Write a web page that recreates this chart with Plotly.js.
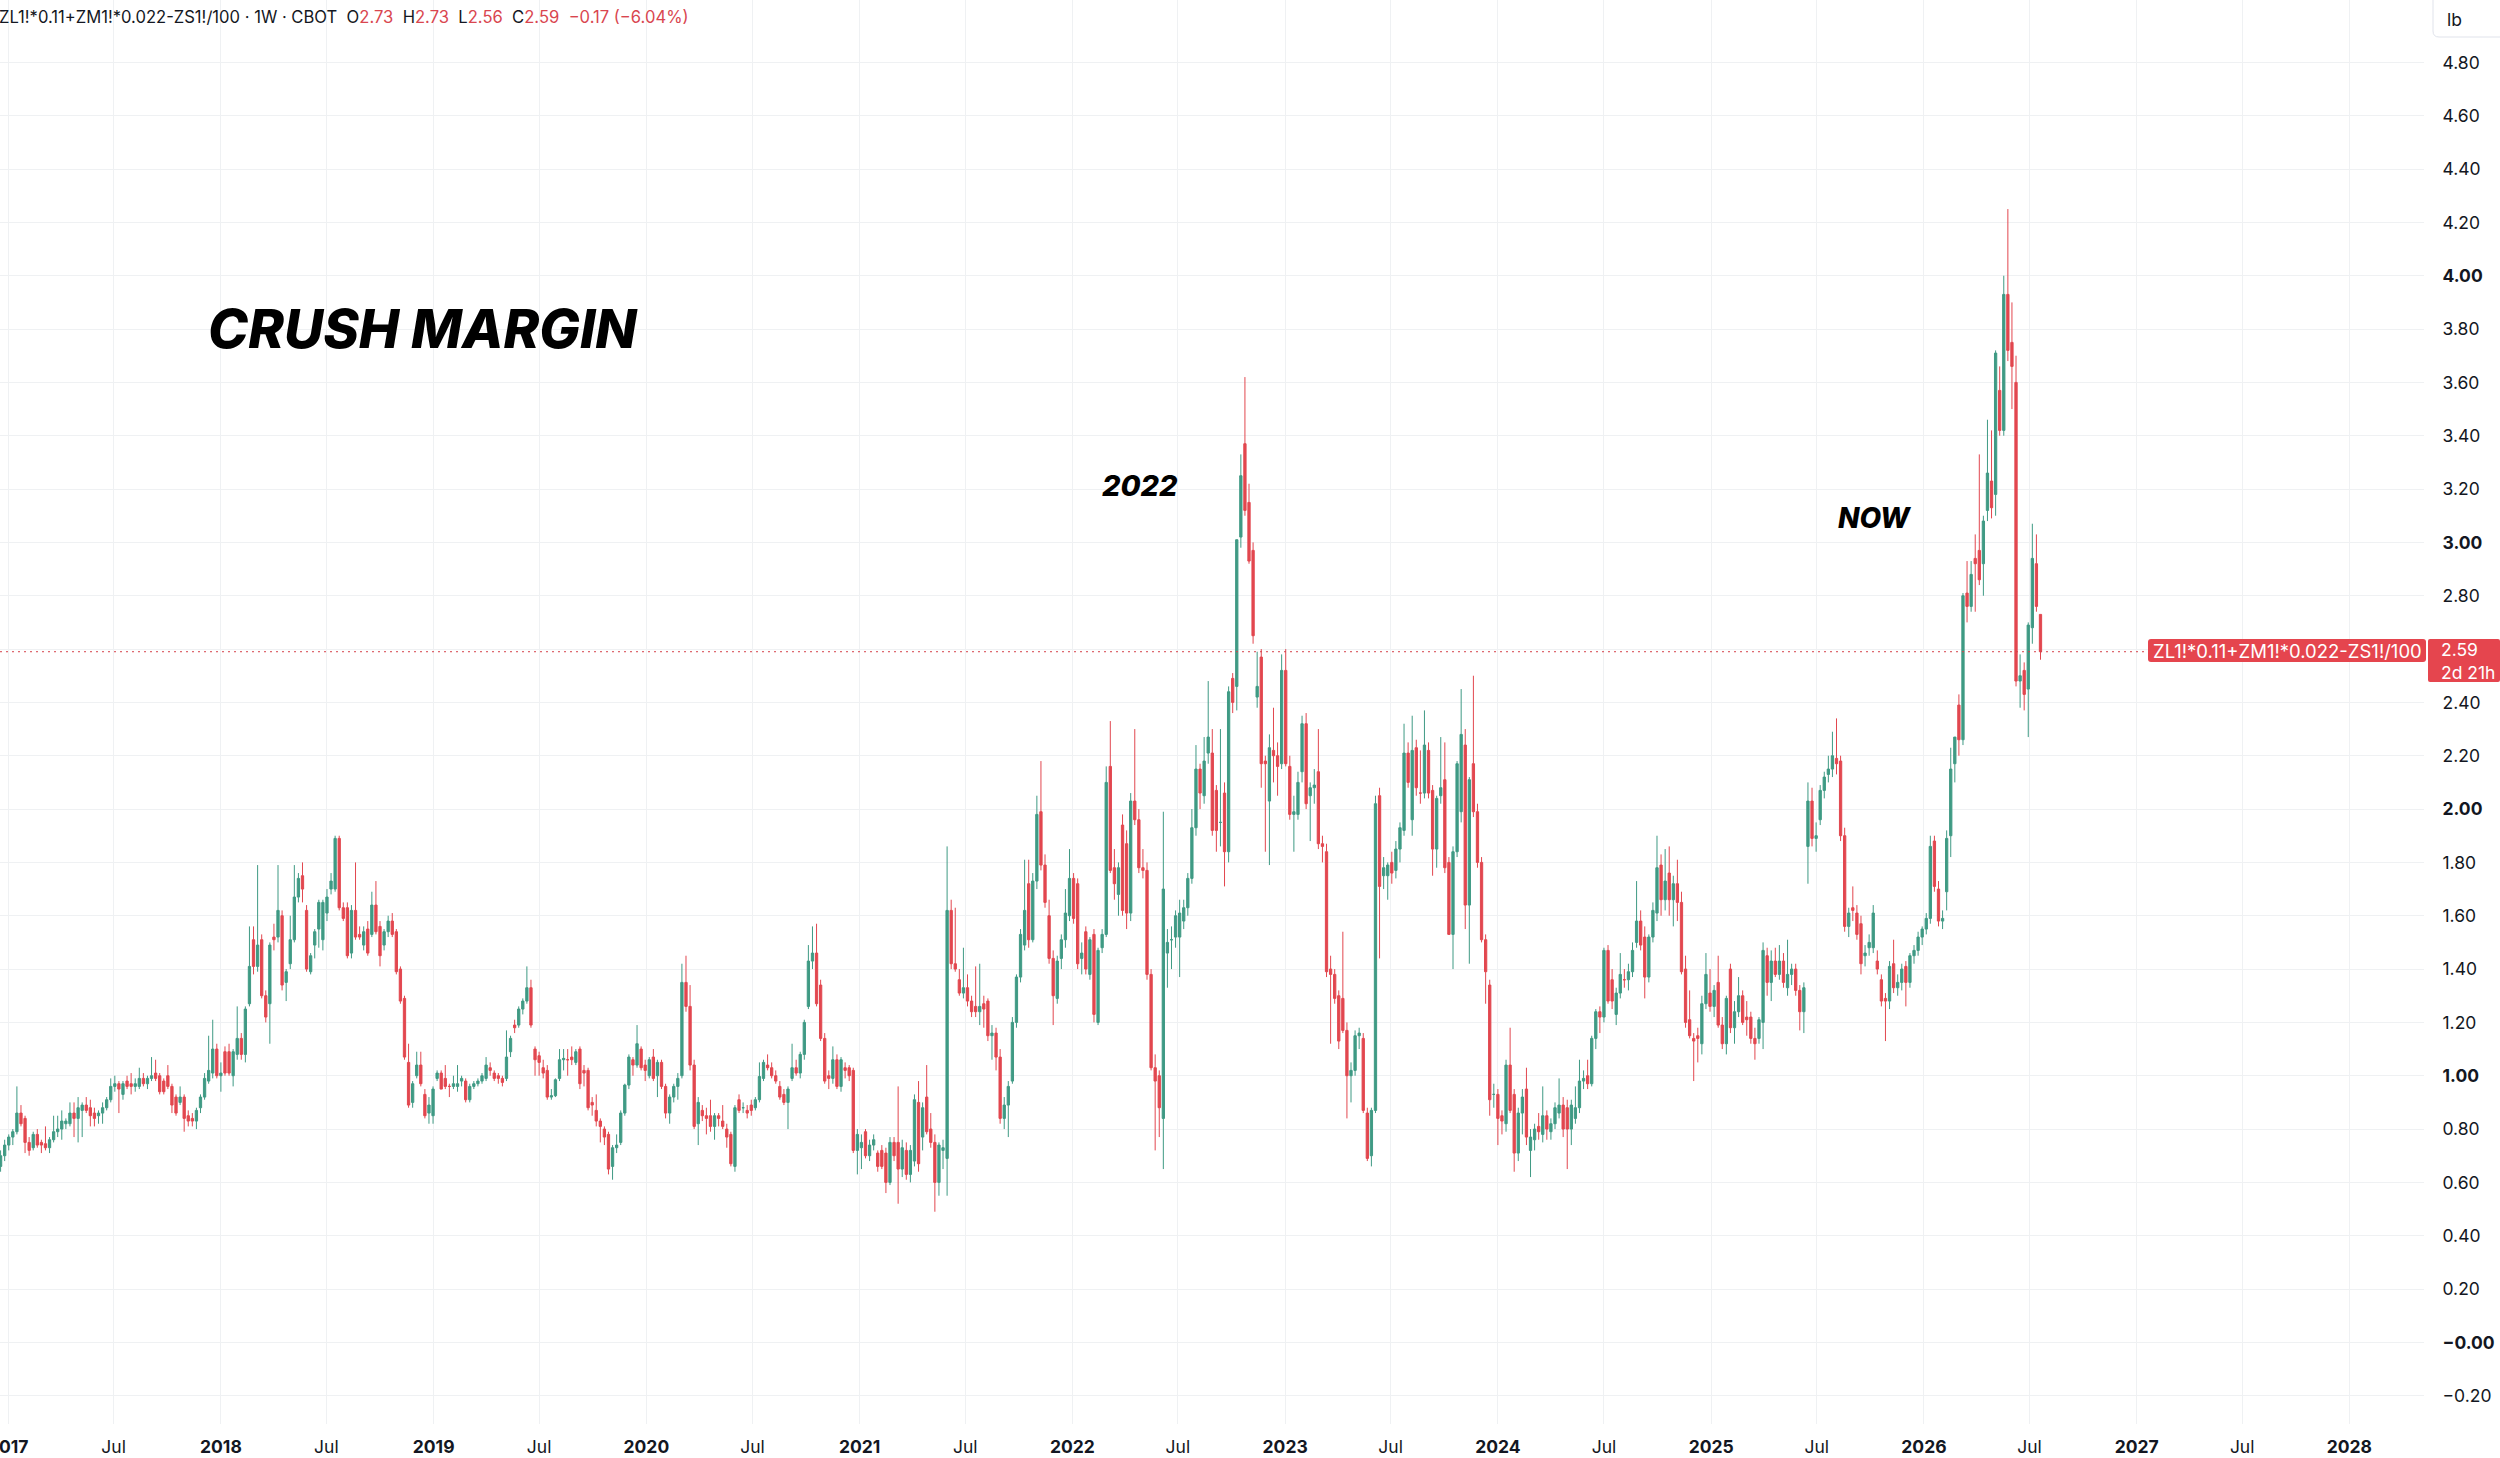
<!DOCTYPE html>
<html>
<head>
<meta charset="utf-8">
<script src="https://cdn.plot.ly/plotly-3.0.1.min.js"></script>
<style>html,body{margin:0;padding:0;background:#fff;}#chart{width:2500px;height:1458px;}</style>
</head>
<body>
<div id="chart"></div>
<script>
// Weekly bars [open, high, low, close], continuous Monday sequence from firstWeek
const firstWeek = '2016-12-19';
const bars2017 = [
[0.66,0.72,0.64,0.70],[0.70,0.76,0.68,0.74],[0.74,0.78,0.72,0.77],[0.77,0.80,0.74,0.79],[0.79,0.96,0.78,0.86],[0.86,0.89,0.81,0.82],[0.84,0.85,0.71,0.75],[0.75,0.77,0.70,0.72],[0.73,0.79,0.72,0.78],[0.78,0.80,0.73,0.74],[0.75,0.76,0.71,0.74],[0.745,0.81,0.72,0.73],[0.73,0.77,0.71,0.76],[0.76,0.85,0.75,0.79],[0.79,0.85,0.77,0.80],[0.80,0.87,0.76,0.83],[0.82,0.84,0.80,0.83],[0.82,0.90,0.81,0.86],[0.86,0.90,0.77,0.84],[0.84,0.92,0.75,0.88],[0.87,0.90,0.77,0.89],[0.89,0.92,0.86,0.87],[0.88,0.91,0.81,0.85],[0.86,0.88,0.81,0.84],[0.85,0.87,0.82,0.86],[0.86,0.90,0.82,0.88],[0.88,0.92,0.87,0.91],[0.91,0.99,0.90,0.96],
[0.96,1.00,0.94,0.97],[0.97,0.98,0.86,0.95],[0.93,0.98,0.91,0.97],[0.98,1.00,0.95,0.96],[0.97,1.01,0.93,0.96],[0.96,0.99,0.94,0.97],[0.96,1.03,0.95,0.99],[0.99,1.01,0.96,0.97],[0.97,1.00,0.95,0.99],[0.99,1.07,0.98,1.00],[1.01,1.06,0.98,0.99],[1.00,1.01,0.93,0.94],[0.98,0.99,0.93,0.94],[1.00,1.04,0.95,0.96],[0.96,0.97,0.86,0.89],[0.92,0.93,0.85,0.86],[0.90,0.96,0.89,0.92],[0.92,0.93,0.79,0.84],[0.85,0.87,0.81,0.83],[0.84,0.86,0.81,0.83],[0.83,0.88,0.80,0.87],[0.88,0.93,0.86,0.92],[0.92,1.01,0.91,0.99],[0.98,1.15,0.97,1.02],[1.01,1.21,0.99,1.10],[1.10,1.12,0.99,1.00]
];
const bars2018 = [
[1.00,1.05,0.94,1.01],[1.09,1.11,1.00,1.01],[1.09,1.12,1.00,1.01],[1.00,1.10,0.96,1.09],[1.08,1.26,1.06,1.14],[1.14,1.16,1.06,1.08],[1.08,1.26,1.05,1.25],[1.27,1.56,1.26,1.41],[1.51,1.56,1.38,1.41],[1.41,1.79,1.39,1.49],[1.51,1.53,1.29,1.30],[1.30,1.32,1.20,1.22],[1.27,1.50,1.12,1.49],[1.52,1.57,1.47,1.51],[1.52,1.79,1.50,1.62],[1.60,1.62,1.32,1.34],[1.35,1.40,1.28,1.39],[1.42,1.60,1.40,1.51],[1.51,1.79,1.50,1.67],[1.67,1.76,1.65,1.74],[1.75,1.80,1.65,1.70],[1.62,1.64,1.39,1.40],[1.39,1.46,1.38,1.45],[1.49,1.55,1.44,1.54],[1.55,1.66,1.48,1.65],[1.51,1.66,1.47,1.65],
[1.61,1.70,1.58,1.67],[1.70,1.76,1.68,1.73],[1.70,1.90,1.69,1.89],[1.89,1.90,1.62,1.63],[1.63,1.65,1.58,1.59],[1.63,1.65,1.44,1.45],[1.46,1.64,1.44,1.62],[1.62,1.80,1.51,1.52],[1.53,1.56,1.51,1.52],[1.49,1.56,1.47,1.54],[1.55,1.58,1.45,1.46],[1.53,1.69,1.52,1.64],[1.64,1.73,1.53,1.54],[1.56,1.58,1.41,1.45],[1.49,1.55,1.47,1.54],[1.54,1.60,1.52,1.58],[1.58,1.61,1.52,1.53],[1.54,1.55,1.38,1.39],[1.40,1.41,1.27,1.28],[1.29,1.30,1.06,1.07],[1.05,1.12,0.88,0.89],[0.90,0.98,0.88,0.97],[1.00,1.09,0.99,1.04],[1.04,1.09,0.96,0.97],[0.93,0.95,0.84,0.85],[0.86,0.92,0.82,0.89]
];
const bars2019 = [
[0.85,0.96,0.82,0.95],[0.99,1.02,0.98,1.01],[1.01,1.02,0.95,0.95],[0.99,1.04,0.95,0.96],[0.96,0.97,0.92,0.96],[0.96,1.00,0.95,0.97],[0.96,1.04,0.94,0.97],[0.98,1.00,0.96,0.99],[0.98,0.99,0.90,0.91],[0.91,0.97,0.90,0.96],[0.96,0.98,0.95,0.97],[0.97,0.99,0.96,0.98],[0.98,1.01,0.97,1.00],[0.99,1.07,0.98,1.04],[1.03,1.05,1.00,1.02],[1.01,1.02,0.98,0.99],[1.00,1.01,0.97,0.99],[0.99,1.00,0.96,0.975],[0.99,1.17,0.98,1.07],[1.09,1.15,1.07,1.14],[1.19,1.21,1.16,1.18],[1.19,1.26,1.18,1.25],[1.25,1.29,1.23,1.28],[1.28,1.41,1.27,1.33],[1.33,1.36,1.18,1.19],[1.10,1.11,1.00,1.06],
[1.075,1.09,1.00,1.05],[1.03,1.06,0.99,1.01],[1.02,1.04,0.91,0.92],[0.92,0.95,0.91,0.925],[0.925,0.99,0.92,0.985],[0.99,1.10,0.98,1.06],[1.06,1.10,1.02,1.065],[1.06,1.10,1.00,1.06],[1.07,1.11,1.04,1.06],[1.05,1.10,1.04,1.09],[1.10,1.11,0.95,0.97],[1.02,1.04,0.96,1.01],[1.02,1.03,0.87,0.88],[0.90,0.92,0.85,0.89],[0.87,0.93,0.81,0.83],[0.83,0.84,0.75,0.81],[0.80,0.81,0.74,0.77],[0.78,0.79,0.63,0.65],[0.66,0.74,0.61,0.73],[0.73,0.78,0.71,0.74],[0.75,0.87,0.74,0.86],[0.86,0.97,0.85,0.965],[0.965,1.08,0.95,1.07],[1.06,1.07,1.00,1.04],[1.04,1.19,1.03,1.12],[1.10,1.11,1.02,1.03]
];
const bars2020 = [
[1.04,1.06,0.98,1.02],[1.00,1.07,0.99,1.06],[1.07,1.10,0.98,0.99],[1.00,1.06,0.92,1.05],[1.05,1.06,0.95,0.96],[0.96,0.97,0.84,0.86],[0.86,0.93,0.82,0.92],[0.92,0.97,0.90,0.96],[0.96,1.01,0.91,0.99],[1.00,1.42,0.99,1.35],[1.35,1.45,1.24,1.26],[1.26,1.34,1.02,1.04],[1.04,1.06,0.80,0.81],[0.82,0.92,0.74,0.90],[0.87,0.89,0.83,0.85],[0.85,0.88,0.78,0.84],[0.85,0.91,0.79,0.81],[0.81,0.86,0.76,0.85],[0.85,0.86,0.81,0.84],[0.83,0.89,0.80,0.81],[0.80,0.82,0.73,0.77],[0.78,0.79,0.66,0.67],[0.66,0.89,0.64,0.88],[0.91,0.93,0.86,0.87],[0.88,0.90,0.86,0.88],[0.87,0.89,0.84,0.86],
[0.89,0.91,0.85,0.87],[0.88,0.92,0.87,0.91],[0.91,1.05,0.90,0.997],[0.99,1.06,0.98,1.05],[1.04,1.08,1.02,1.03],[1.03,1.05,0.99,1.00],[1.00,1.02,0.97,0.98],[0.96,0.98,0.91,0.92],[0.93,0.95,0.89,0.90],[0.90,0.96,0.80,0.95],[0.99,1.12,0.98,1.03],[1.03,1.06,1.00,1.01],[1.01,1.09,0.99,1.08],[1.08,1.21,1.06,1.20],[1.26,1.49,1.25,1.43],[1.43,1.56,1.40,1.46],[1.46,1.57,1.26,1.27],[1.34,1.36,1.13,1.14],[1.14,1.16,0.97,0.98],[1.00,1.02,0.95,0.99],[0.99,1.11,0.97,1.06],[1.06,1.08,0.95,0.96],[0.96,1.07,0.94,1.06],[1.03,1.05,0.99,1.02],[1.03,1.04,0.98,1.00],[1.02,1.03,0.71,0.72]
];
const bars2021 = [
[0.72,0.80,0.63,0.78],[0.73,0.78,0.65,0.75],[0.79,0.80,0.69,0.70],[0.70,0.76,0.68,0.74],[0.74,0.78,0.72,0.76],[0.71,0.72,0.64,0.66],[0.72,0.74,0.65,0.66],[0.71,0.73,0.56,0.60],[0.60,0.77,0.59,0.75],[0.75,0.77,0.68,0.70],[0.75,0.96,0.52,0.65],[0.65,0.76,0.62,0.73],[0.72,0.75,0.61,0.63],[0.63,0.74,0.60,0.72],[0.68,0.93,0.66,0.91],[0.90,0.98,0.64,0.67],[0.77,0.90,0.72,0.88],[0.92,1.04,0.78,0.79],[0.80,0.86,0.73,0.75],[0.75,0.78,0.49,0.60],[0.60,0.75,0.55,0.74],[0.72,0.76,0.65,0.73],[0.69,1.86,0.55,1.62],[1.62,1.66,1.40,1.42],[1.42,1.63,1.39,1.40],[1.36,1.40,1.30,1.31],
[1.31,1.48,1.29,1.33],[1.33,1.38,1.26,1.28],[1.28,1.30,1.22,1.24],[1.26,1.41,1.22,1.24],[1.24,1.42,1.19,1.26],[1.27,1.30,1.18,1.25],[1.28,1.29,1.13,1.15],[1.15,1.19,1.06,1.16],[1.16,1.18,1.02,1.07],[1.07,1.10,0.82,0.84],[0.84,0.92,0.80,0.89],[0.89,0.98,0.77,0.96],[0.98,1.22,0.97,1.20],[1.20,1.38,1.18,1.37],[1.37,1.55,1.35,1.53],[1.49,1.81,1.47,1.62],[1.72,1.81,1.48,1.51],[1.51,1.76,1.50,1.73],[1.73,2.05,1.70,1.98],[1.99,2.18,1.77,1.79],[1.79,1.83,1.63,1.65],[1.60,1.66,1.42,1.44],[1.44,1.47,1.19,1.30],[1.29,1.45,1.27,1.43],[1.44,1.53,1.40,1.51],[1.51,1.70,1.48,1.61]
];
const bars2022 = [
[1.60,1.85,1.58,1.74],[1.74,1.76,1.57,1.59],[1.72,1.74,1.40,1.42],[1.44,1.50,1.38,1.46],[1.54,1.56,1.38,1.40],[1.38,1.52,1.36,1.51],[1.53,1.55,1.20,1.23],[1.20,1.48,1.19,1.47],[1.48,1.55,1.46,1.53],[1.53,2.16,1.52,2.10],[2.16,2.33,1.76,1.77],[1.78,1.85,1.66,1.72],[1.68,1.80,1.60,1.78],[1.94,1.98,1.60,1.62],[1.87,1.92,1.55,1.61],[1.61,2.06,1.58,2.03],[2.03,2.30,1.94,1.96],[1.96,2.00,1.76,1.78],[1.78,1.85,1.74,1.77],[1.77,1.80,1.36,1.38],[1.38,1.40,1.02,1.03],[1.03,1.08,0.72,0.98],[1.00,1.02,0.77,0.88],[0.84,1.99,0.65,1.70],[1.46,1.55,1.33,1.50],[1.51,1.56,1.40,1.51],
[1.52,1.62,1.48,1.60],[1.52,1.66,1.37,1.61],[1.58,1.66,1.55,1.63],[1.63,1.76,1.60,1.74],[1.74,2.00,1.72,1.93],[1.93,2.24,1.90,2.15],[2.15,2.17,2.00,2.06],[2.05,2.27,2.02,2.18],[2.21,2.48,2.17,2.27],[2.21,2.30,1.90,1.92],[2.07,2.09,1.84,1.92],[1.95,2.30,1.86,1.95],[2.06,2.10,1.71,1.84],[1.84,2.46,1.80,2.44],[2.49,2.51,2.36,2.40],[2.46,3.01,2.37,3.01],[3.02,3.33,2.98,3.25],[3.37,3.62,3.10,3.12],[3.15,3.22,2.92,2.93],[2.97,3.00,2.62,2.65],[2.42,2.59,2.38,2.46],[2.57,2.60,2.08,2.17],[2.18,2.20,1.84,2.17],[2.03,2.28,1.79,2.23],[2.22,2.38,2.10,2.20],[2.20,2.25,2.05,2.16]
];
const bars2023 = [
[2.17,2.58,2.15,2.52],[2.52,2.60,2.16,2.17],[2.16,2.20,1.96,1.98],[1.98,2.05,1.84,1.99],[1.98,2.14,1.96,2.10],[2.14,2.35,2.10,2.32],[2.32,2.36,2.00,2.02],[2.05,2.10,1.88,2.08],[2.08,2.15,2.02,2.09],[2.14,2.30,1.85,1.87],[1.87,1.90,1.80,1.86],[1.84,1.87,1.37,1.39],[1.40,1.45,1.12,1.38],[1.38,1.40,1.27,1.29],[1.30,1.32,1.10,1.13],[1.29,1.54,1.16,1.17],[1.17,1.20,0.84,1.00],[1.00,1.05,0.90,1.02],[1.02,1.17,1.00,1.15],[1.15,1.18,1.10,1.16],[1.14,1.16,0.86,0.87],[0.86,0.88,0.68,0.69],[0.70,0.88,0.66,0.87],[0.87,2.05,0.86,2.02],[2.05,2.08,1.44,1.71],[1.75,1.82,1.70,1.78],
[1.75,1.80,1.66,1.79],[1.80,1.84,1.72,1.76],[1.77,1.88,1.74,1.85],[1.85,1.95,1.80,1.93],[1.92,2.32,1.90,2.21],[2.21,2.25,2.08,2.10],[1.96,2.35,1.90,2.22],[2.23,2.26,2.05,2.08],[2.06,2.22,2.02,2.06],[2.06,2.37,2.04,2.24],[2.22,2.25,2.04,2.06],[2.07,2.09,1.75,1.85],[1.85,2.05,1.78,2.04],[2.05,2.27,2.02,2.08],[2.11,2.25,1.76,1.78],[1.80,1.82,1.53,1.53],[1.53,1.86,1.40,1.84],[1.84,2.18,1.82,2.17],[1.99,2.45,1.95,2.28],[2.24,2.30,1.55,1.64],[1.64,2.12,1.42,2.11],[2.17,2.50,1.97,1.99],[1.99,2.02,1.78,1.80],[1.80,1.82,1.50,1.51],[1.51,1.53,1.27,1.39],[1.34,1.36,0.85,0.91]
];
const bars2024 = [
[0.93,0.97,0.88,0.93],[0.93,0.95,0.74,0.84],[0.85,0.87,0.78,0.83],[0.82,1.06,0.79,1.04],[1.04,1.18,0.86,0.87],[0.93,0.95,0.64,0.71],[0.71,0.88,0.68,0.86],[0.86,0.95,0.78,0.92],[0.95,1.03,0.74,0.77],[0.72,0.80,0.62,0.77],[0.76,0.82,0.72,0.80],[0.81,0.86,0.76,0.79],[0.78,0.96,0.75,0.85],[0.85,0.87,0.76,0.80],[0.79,0.84,0.76,0.82],[0.82,0.90,0.80,0.88],[0.86,0.99,0.84,0.89],[0.89,0.92,0.77,0.80],[0.88,0.91,0.65,0.80],[0.80,0.91,0.74,0.89],[0.84,0.96,0.82,0.88],[0.88,1.06,0.86,0.98],[0.98,1.02,0.95,0.99],[1.00,1.06,0.95,0.97],[0.97,1.15,0.96,1.14],[1.14,1.25,1.10,1.24],
[1.24,1.26,1.16,1.22],[1.22,1.48,1.20,1.47],[1.47,1.49,1.27,1.28],[1.36,1.40,1.25,1.28],[1.23,1.33,1.19,1.31],[1.31,1.46,1.29,1.38],[1.36,1.40,1.33,1.36],[1.36,1.42,1.32,1.39],[1.39,1.50,1.37,1.47],[1.50,1.73,1.48,1.58],[1.58,1.62,1.47,1.49],[1.52,1.56,1.29,1.37],[1.37,1.53,1.35,1.52],[1.52,1.65,1.50,1.62],[1.61,1.90,1.58,1.78],[1.79,1.83,1.60,1.66],[1.66,1.85,1.62,1.73],[1.76,1.86,1.60,1.66],[1.66,1.75,1.56,1.72],[1.72,1.81,1.58,1.65],[1.65,1.69,1.38,1.39],[1.40,1.45,1.18,1.20],[1.21,1.32,1.14,1.15],[1.14,1.16,0.98,1.13],[1.15,1.18,1.05,1.14],[1.12,1.30,1.08,1.27]
];
const bars2025 = [
[1.27,1.46,1.25,1.38],[1.31,1.40,1.24,1.26],[1.26,1.34,1.22,1.32],[1.35,1.45,1.18,1.19],[1.19,1.22,1.10,1.12],[1.12,1.30,1.08,1.29],[1.40,1.42,1.16,1.18],[1.18,1.28,1.12,1.24],[1.24,1.37,1.22,1.30],[1.30,1.32,1.19,1.20],[1.22,1.28,1.15,1.21],[1.22,1.24,1.12,1.14],[1.14,1.18,1.06,1.12],[1.14,1.22,1.12,1.21],[1.20,1.50,1.10,1.47],[1.45,1.48,1.30,1.35],[1.35,1.47,1.28,1.43],[1.43,1.48,1.37,1.38],[1.38,1.49,1.36,1.43],[1.43,1.46,1.33,1.35],[1.33,1.51,1.30,1.38],[1.38,1.42,1.34,1.40],[1.40,1.42,1.30,1.32],[1.32,1.34,1.17,1.24],[1.24,1.35,1.16,1.33],[1.86,2.10,1.72,2.03],
[2.03,2.08,1.86,1.89],[1.89,1.95,1.84,1.90],[1.96,2.09,1.94,2.07],[2.07,2.14,2.04,2.12],[2.13,2.20,2.10,2.15],[2.15,2.29,2.12,2.20],[2.19,2.34,2.13,2.17],[2.18,2.20,1.88,1.90],[1.90,1.93,1.54,1.56],[1.56,1.63,1.52,1.61],[1.63,1.71,1.58,1.62],[1.61,1.64,1.51,1.53],[1.57,1.60,1.38,1.42],[1.45,1.49,1.41,1.46],[1.48,1.53,1.45,1.50],[1.48,1.64,1.46,1.61],[1.43,1.47,1.38,1.40],[1.36,1.38,1.26,1.28],[1.29,1.31,1.13,1.28],[1.28,1.43,1.25,1.41],[1.42,1.51,1.31,1.33],[1.33,1.38,1.30,1.35],[1.35,1.42,1.32,1.40],[1.41,1.43,1.26,1.35],[1.35,1.46,1.33,1.45],[1.45,1.49,1.42,1.47]
];
const bars2026 = [
[1.47,1.54,1.45,1.52],[1.52,1.56,1.49,1.55],[1.55,1.61,1.53,1.59],[1.59,1.90,1.57,1.86],[1.88,1.90,1.69,1.71],[1.70,1.73,1.56,1.58],[1.58,1.62,1.55,1.59],[1.69,1.92,1.62,1.89],[1.90,2.23,1.82,2.15],[2.17,2.27,2.10,2.27],[2.39,2.43,2.20,2.26],[2.26,2.81,2.24,2.80],[2.81,2.93,2.70,2.76],[2.76,2.93,2.74,2.88],[2.94,3.03,2.74,2.92],[2.97,3.33,2.84,2.86],[2.92,3.10,2.80,3.08],[3.12,3.46,3.08,3.26],[3.23,3.42,3.09,3.13],[3.18,3.72,3.10,3.71],[3.57,3.66,3.40,3.42],[3.42,4.00,3.40,3.93],[3.93,4.25,3.68,3.72],[3.75,3.90,3.50,3.66],[3.60,3.70,2.46,2.48],[2.48,2.58,2.38,2.50],
[2.52,2.55,2.37,2.43],[2.45,2.70,2.27,2.69],[2.68,3.07,2.62,2.94],[2.92,3.03,2.74,2.76],[2.73,2.73,2.56,2.59]
];

const yTickValues = [-0.2,0,0.2,0.4,0.6,0.8,1,1.2,1.4,1.6,1.8,2,2.2,2.4,2.6,2.8,3,3.2,3.4,3.6,3.8,4,4.2,4.4,4.6,4.8];
const yTickLabels = ['−0.20','<b>−0.00</b>','0.20','0.40','0.60','0.80','<b>1.00</b>','1.20','1.40','1.60','1.80','<b>2.00</b>','2.20','2.40','','2.80','<b>3.00</b>','3.20','3.40','3.60','3.80','<b>4.00</b>','4.20','4.40','4.60','4.80'];
const xTickDates = ['2017-01-01','2017-07-01','2018-01-01','2018-07-01','2019-01-01','2019-07-01','2020-01-01','2020-07-01','2021-01-01','2021-07-01','2022-01-01','2022-07-01','2023-01-01','2023-07-01','2024-01-01','2024-07-01','2025-01-01','2025-07-01','2026-01-01','2026-07-01','2027-01-01','2027-07-01','2028-01-01'];
const xTickLabels = ['<b>2017</b>','Jul','<b>2018</b>','Jul','<b>2019</b>','Jul','<b>2020</b>','Jul','<b>2021</b>','Jul','<b>2022</b>','Jul','<b>2023</b>','Jul','<b>2024</b>','Jul','<b>2025</b>','Jul','<b>2026</b>','Jul','<b>2027</b>','Jul','<b>2028</b>'];
const lastPrice = 2.59;
const symbol = 'ZL1!*0.11+ZM1!*0.022-ZS1!/100';

const allBars = [].concat(bars2017,bars2018,bars2019,bars2020,bars2021,bars2022,bars2023,bars2024,bars2025,bars2026);
const t0 = Date.parse(firstWeek + 'T00:00:00Z');
const dates = allBars.map((b,i)=> new Date(t0 + i*7*86400000).toISOString().slice(0,10));

const UP = '#3f9a84', DOWN = '#e2474f', TXT = '#131722', GRID = '#eff1f3';
const W = 2500, H = 1458, PW = 2424, PH = 1424;
const px = x => x / PW, py = y => 1 - y / PH;
function rrect(x0,y0,x1,y1,r){
  return 'M'+px(x0+r)+','+py(y0)+' L'+px(x1-r)+','+py(y0)+' Q'+px(x1)+','+py(y0)+' '+px(x1)+','+py(y0+r)+
    ' L'+px(x1)+','+py(y1-r)+' Q'+px(x1)+','+py(y1)+' '+px(x1-r)+','+py(y1)+
    ' L'+px(x0+r)+','+py(y1)+' Q'+px(x0)+','+py(y1)+' '+px(x0)+','+py(y1-r)+
    ' L'+px(x0)+','+py(y0+r)+' Q'+px(x0)+','+py(y0)+' '+px(x0+r)+','+py(y0)+' Z';
}

const trace = {
  type: 'candlestick',
  x: dates,
  open: allBars.map(b=>b[0]), high: allBars.map(b=>b[1]), low: allBars.map(b=>b[2]), close: allBars.map(b=>b[3]),
  increasing: {line:{color:UP,width:1}, fillcolor:UP},
  decreasing: {line:{color:DOWN,width:1}, fillcolor:DOWN},
  whiskerwidth: 0,
  hoverinfo: 'skip'
};

const FONT = 'Inter, Roboto, "Liberation Sans", sans-serif';
const red = s => '<span style="color:#d9464f">'+s+'</span>';
const header = symbol + ' · 1W · CBOT\u00a0\u00a0O' + red('2.73') + '\u00a0\u00a0H' + red('2.73') + '\u00a0\u00a0L' + red('2.56') + '\u00a0\u00a0C' + red('2.59') + '\u00a0\u00a0' + red('−0.17 (−6.04%)');

const layout = {
  width: W, height: H,
  margin: {l:0, r:W-PW, t:0, b:H-PH, pad:0},
  paper_bgcolor: '#ffffff', plot_bgcolor: '#ffffff',
  showlegend: false, hovermode: false, boxgap: 0.2,
  font: {family: FONT, color: TXT, size: 17},
  xaxis: {
    type: 'date', range: ['2016-12-18','2028-05-08'],
    rangeslider: {visible:false},
    tickmode: 'array', tickvals: xTickDates, ticktext: xTickLabels,
    showgrid: true, gridcolor: GRID, gridwidth: 1, zeroline: false, showline: false,
    ticks: 'outside', ticklen: 7, tickcolor: 'rgba(0,0,0,0)', ticklabeloverflow: 'allow',
    tickfont: {family: FONT, size: 17.5, color: TXT}, fixedrange: true
  },
  yaxis: {
    side: 'right', range: [-0.306, 5.034],
    tickmode: 'array', tickvals: yTickValues, ticktext: yTickLabels,
    showgrid: true, gridcolor: GRID, gridwidth: 1, zeroline: false, showline: false,
    ticks: 'outside', ticklen: 14, tickcolor: 'rgba(0,0,0,0)',
    tickfont: {family: FONT, size: 17.5, color: TXT}, fixedrange: true
  },
  shapes: [
    {type:'line', xref:'paper', x0:0, x1:1, yref:'y', y0:lastPrice, y1:lastPrice, line:{color:'#d5404a', width:1, dash:'2px,4px'}, layer:'above'},
    {type:'path', path: rrect(2148,639,2426,662,3), xref:'paper', yref:'paper', fillcolor:'#e5454e', line:{width:0}, layer:'above'},
    {type:'path', path: rrect(2428,639,2500,682,2), xref:'paper', yref:'paper', fillcolor:'#e5454e', line:{width:0}, layer:'above'},
    {type:'path', path: rrect(2433,-6,2506,37,6), xref:'paper', yref:'paper', fillcolor:'#ffffff', line:{width:1,color:'#e0e3eb'}, layer:'above'}
  ],
  annotations: [
    {xref:'paper', yref:'paper', x:px(-3), y:py(17.5), xanchor:'left', yanchor:'middle', text: header, showarrow:false, font:{family:FONT, size:16.6, color:TXT}},
    {xref:'paper', yref:'paper', x:px(2287), y:py(650.5), xanchor:'center', yanchor:'middle', text: symbol, showarrow:false, font:{family:FONT, size:18.5, color:'#ffffff'}},
    {xref:'paper', yref:'paper', x:px(2439), y:py(661), xanchor:'left', yanchor:'middle', align:'left', text: '2.59<br>2d 21h', showarrow:false, font:{family:FONT, size:17.5, color:'#ffffff'}},
    {xref:'paper', yref:'paper', x:px(2445), y:py(19), xanchor:'left', yanchor:'middle', text: 'lb', showarrow:false, font:{family:FONT, size:17.5, color:TXT}},
    {xref:'paper', yref:'paper', x:px(206), y:py(329), xanchor:'left', yanchor:'middle', text: 'CRUSH MARGIN', showarrow:false, font:{family:FONT, size:54, color:'#000000', weight:800, style:'italic'}},
    {xref:'paper', yref:'paper', x:px(1140), y:py(486), xanchor:'center', yanchor:'middle', text: '2022', showarrow:false, font:{family:FONT, size:29, color:'#000000', weight:800, style:'italic'}},
    {xref:'paper', yref:'paper', x:px(1875), y:py(518), xanchor:'center', yanchor:'middle', text: 'NOW', showarrow:false, font:{family:FONT, size:28, color:'#000000', weight:800, style:'italic'}}
  ]
};

Plotly.newPlot('chart', [trace], layout, {staticPlot: true, displayModeBar: false});
</script>
</body>
</html>
